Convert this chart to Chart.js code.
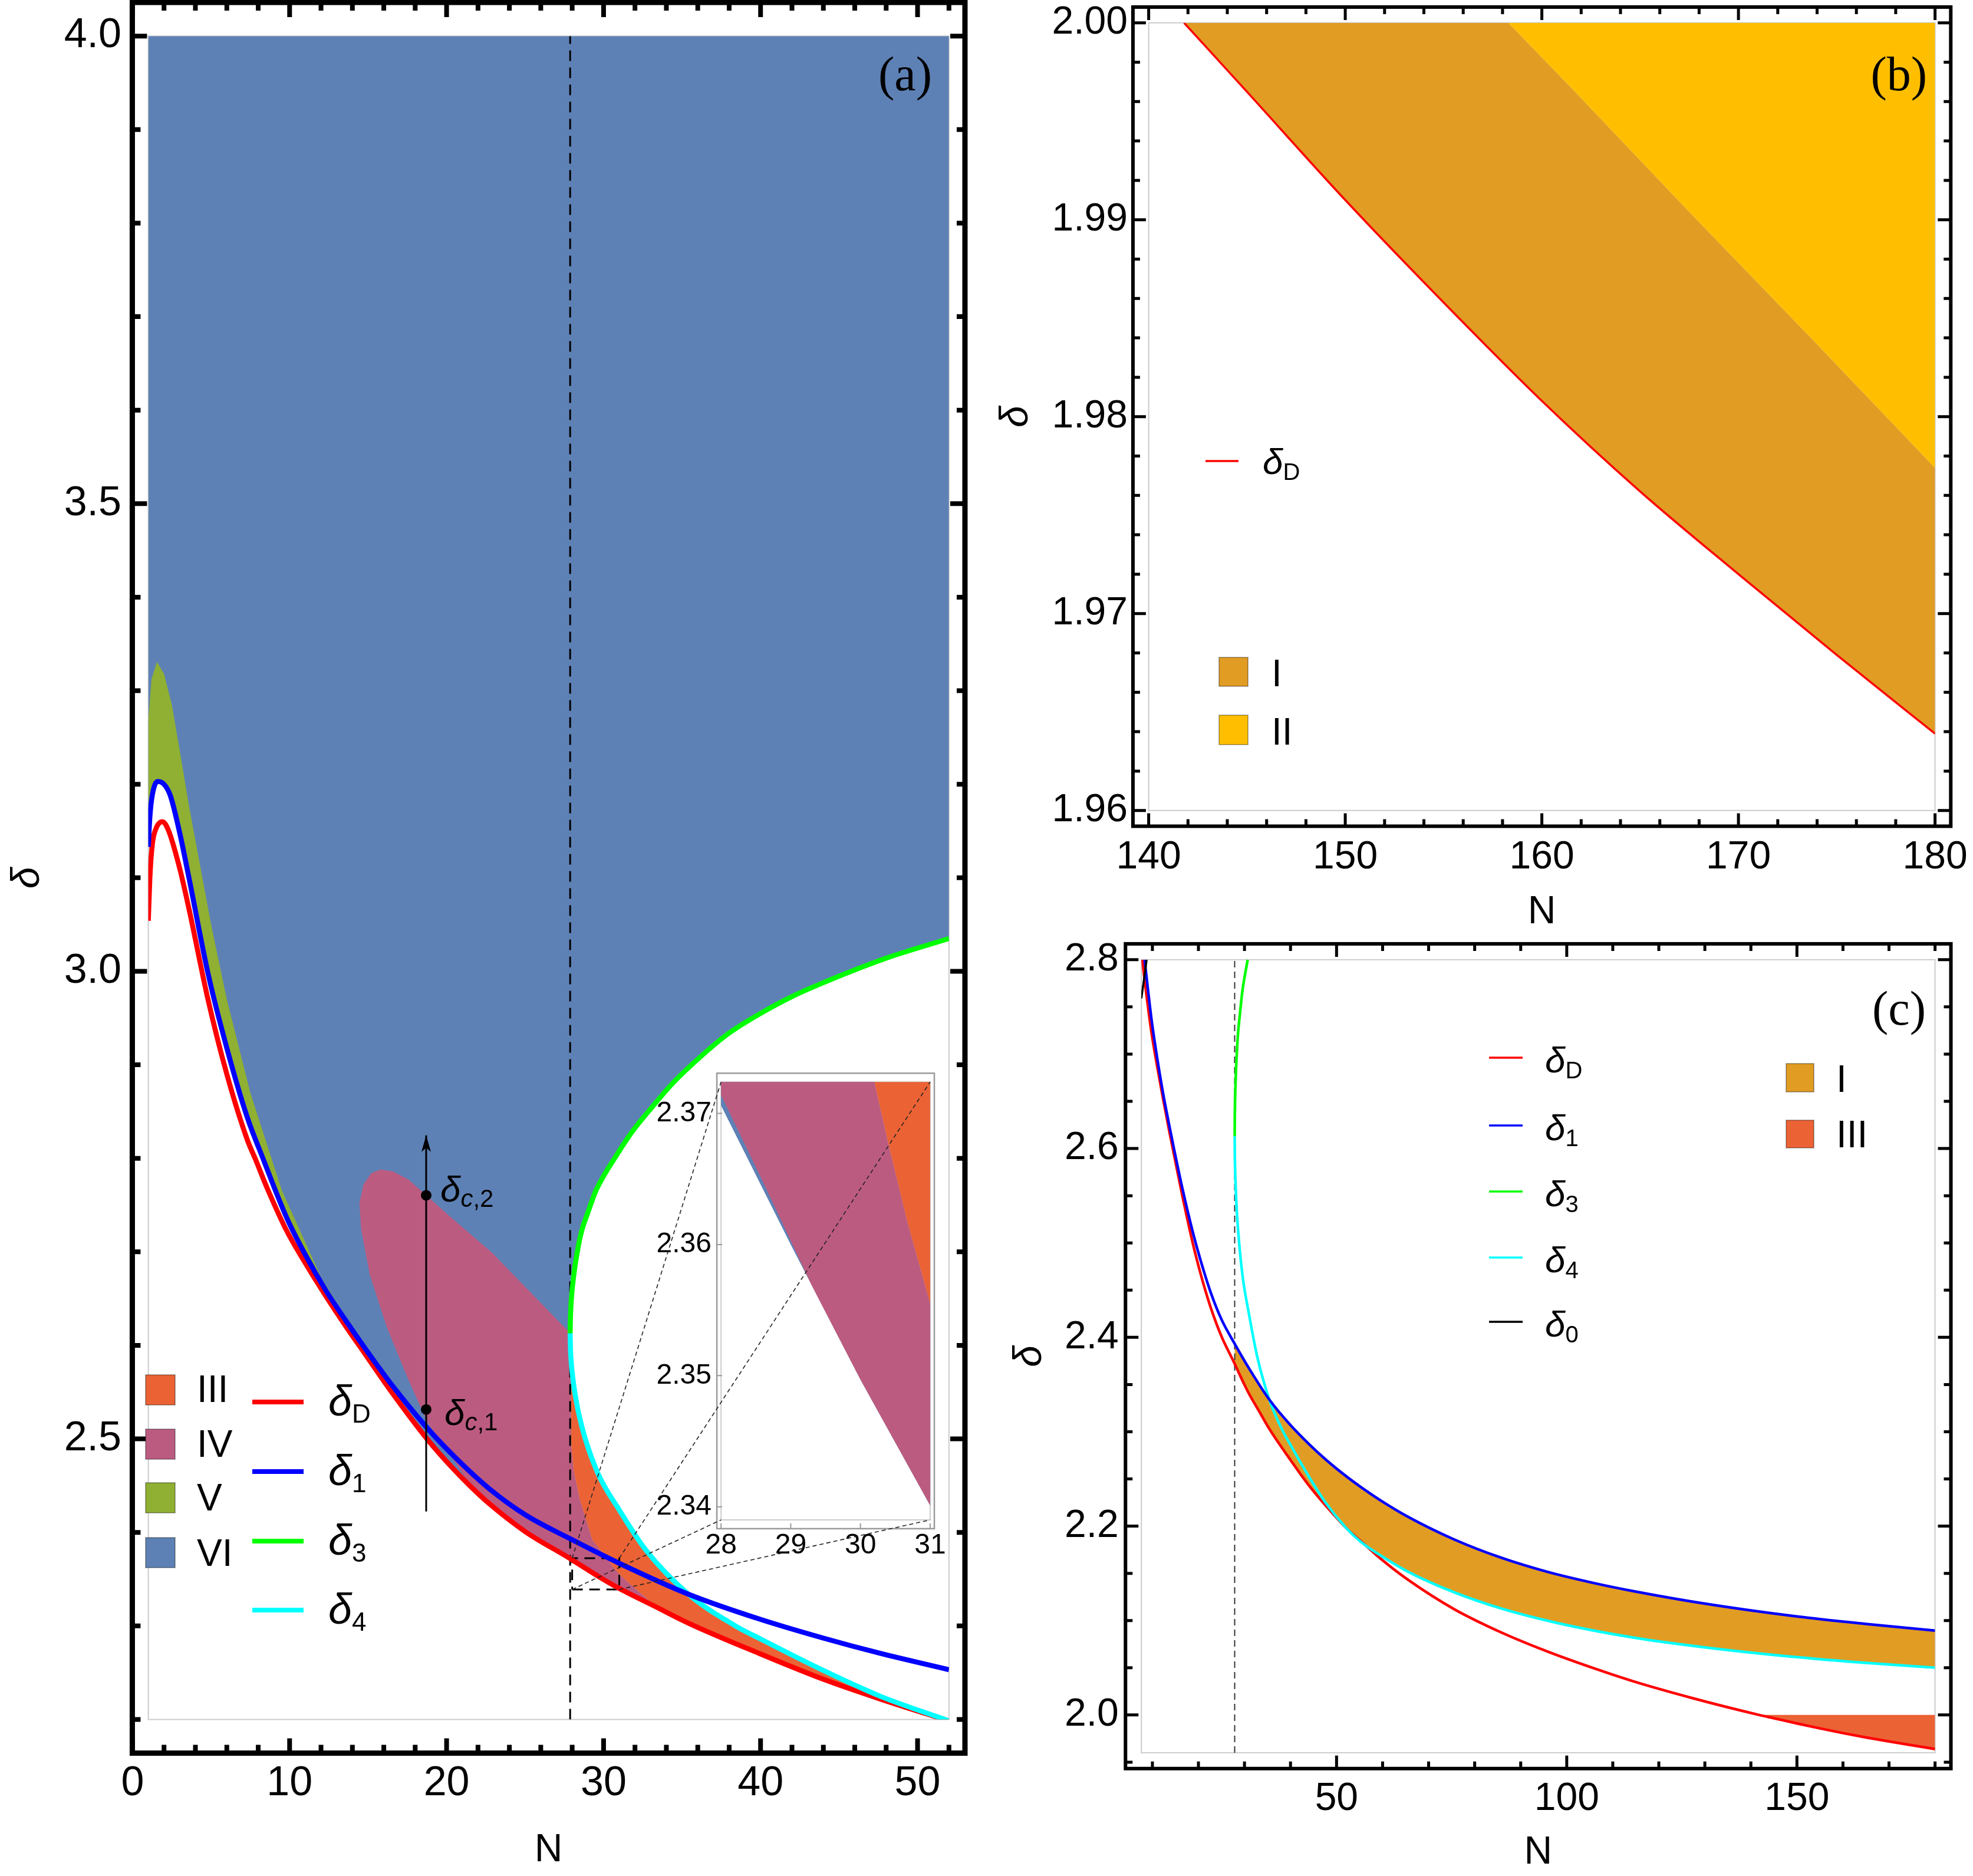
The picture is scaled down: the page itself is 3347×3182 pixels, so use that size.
<!DOCTYPE html>
<html>
<head>
<meta charset="utf-8">
<title>Phase diagram in the (N, delta) plane</title>
<script src="https://cdn.jsdelivr.net/npm/chart.js@4.4.1/dist/chart.umd.min.js"></script>
<style>
  html, body { margin: 0; padding: 0; background: #fff; }
  body { position: relative; width: 3347px; height: 3182px; overflow: hidden; }
  canvas { position: absolute; }
</style>
</head>
<body>
<canvas id="chartA" width="1660" height="3182" style="left:0px;top:0px"></canvas>
<canvas id="chartB" width="1687" height="1590" style="left:1660px;top:0px"></canvas>
<canvas id="chartC" width="1687" height="1592" style="left:1660px;top:1590px"></canvas>
<canvas id="chartI" width="700" height="950" style="left:940px;top:1780px"></canvas>
<script>
// ---- values: N on x, delta on y ----

// delta_D (red)
const nD = [1.0, 1.1, 1.25, 1.5, 1.9, 2.3, 3.0, 3.6, 4.8, 6.0, 7.3, 7.8, 8.6, 9.8, 11.0, 12.3, 13.6, 14.8, 16.5, 18.8,
            20.5, 21.6, 22.7, 25.0, 27.87, 28.0, 29.0, 30.0, 31.0, 33.3, 35.4, 40.0, 44.0, 47.6, 52.0, 55.2, 60.0, 65.4, 75.5, 85.6,
            95.7, 105.9, 114.4, 127.4, 141.8, 145, 150, 155, 160, 165, 170, 175, 180];
const dD = [3.054, 3.100, 3.135, 3.153, 3.160, 3.150, 3.110, 3.066, 2.970, 2.890, 2.820, 2.800, 2.767, 2.723, 2.688, 2.653, 2.620, 2.591, 2.550, 2.499,
            2.4667, 2.448, 2.431, 2.401, 2.372, 2.3706, 2.3600, 2.3497, 2.3401, 2.3207, 2.3030, 2.2700, 2.2430, 2.2220, 2.1985, 2.1845, 2.1638, 2.1436, 2.1122, 2.0878,
            2.0674, 2.0494, 2.0357, 2.0177, 2.0000, 1.9965, 1.9910, 1.9858, 1.9808, 1.9762, 1.9720, 1.9679, 1.9639];

// delta_1 (blue)
const n1 = [1.0, 1.1, 1.25, 1.6, 2.0, 2.4, 3.0, 3.6, 4.8, 6.0, 7.3, 8.3, 9.8, 11.0, 12.3, 13.6, 14.8, 16.5, 18.8, 20.5,
            22.7, 25.0, 27.9, 31.0, 35.4, 40.0, 44.0, 47.6, 52.0, 55.2, 60.0, 65.4, 75.5, 85.6, 95.7, 105.9, 114.4, 130, 150, 165, 180];
const d1 = [3.133, 3.165, 3.188, 3.203, 3.200, 3.188, 3.148, 3.099, 2.998, 2.918, 2.844, 2.800, 2.737, 2.697, 2.659, 2.626, 2.597, 2.558, 2.511, 2.481,
            2.447, 2.419, 2.393, 2.367, 2.334, 2.307, 2.287, 2.2708, 2.2532, 2.2417, 2.2259, 2.2102, 2.1860, 2.1668, 2.1517, 2.1397, 2.1312, 2.1179, 2.1043, 2.0964, 2.0894];

// delta_3 (green) and delta_4 (cyan), both leaving the turning point
const n3 = [27.87, 27.89, 27.95, 28.14, 28.38, 28.6, 29.0, 29.5, 30.0, 30.7, 31.8, 33.0, 34.5, 36.4, 38.0, 40.0, 42.0, 44.6, 48.0, 52.0];
const d3 = [2.613, 2.630, 2.650, 2.680, 2.705, 2.722, 2.742, 2.765, 2.781, 2.800, 2.828, 2.853, 2.882, 2.912, 2.934, 2.955, 2.973, 2.992, 3.014, 3.035];
const n4 = [27.87, 27.89, 27.95, 28.0, 28.2, 28.6, 29.6, 31.0, 32.7, 35.4, 38.3, 40.0, 43.8, 47.6, 52.0, 55.2, 60.0, 65.4, 75.5, 85.6,
            98.3, 114.4, 130, 150, 165, 180];
const d4 = [2.613, 2.597, 2.580, 2.571, 2.546, 2.514, 2.4645, 2.424, 2.381, 2.334, 2.301, 2.286, 2.254, 2.225, 2.1985, 2.1837, 2.1676, 2.152, 2.130, 2.113,
            2.097, 2.082, 2.0716, 2.0612, 2.0551, 2.0501];

// delta_0 (black, panel c only)
const n0 = [7.6, 8.2, 8.75];
const d0 = [2.759, 2.780, 2.800];

// region borders that are not one of the curves
const nVtop = [1.0, 1.2, 1.55, 2.0, 2.5, 3.0, 3.6, 4.4, 5.0, 6.0, 7.5, 9.5, 12.0, 14.8];
const dVtop = [3.268, 3.312, 3.331, 3.318, 3.285, 3.236, 3.176, 3.104, 3.050, 2.970, 2.870, 2.766, 2.673, 2.597];
const nIVarc = [21.6, 20.1, 18.8, 17.5, 16.2, 15.1, 14.55, 14.45, 14.7, 15.2, 15.8, 16.6, 17.6, 20.2, 22.9, 25.5, 27.87];
const dIVarc = [2.448, 2.4865, 2.517, 2.566, 2.619, 2.676, 2.725, 2.752, 2.772, 2.784, 2.788, 2.786, 2.777, 2.738, 2.699, 2.654, 2.613];
const nIVlow = [29.3, 28.6, 28.0, 27.87];
const dIVlow = [2.3569, 2.3648, 2.3714, 2.3730];
const nIIIedge = [28.0, 27.93, 27.92, 27.95, 28.1, 28.49, 29.29, 30.2, 30.4, 30.67, 31.0, 31.5, 32.0, 32.6, 33.3];
const dIIIedge = [2.571, 2.545, 2.515, 2.4914, 2.466, 2.435, 2.392, 2.3724, 2.3677, 2.3618, 2.3555, 2.3475, 2.3405, 2.3315, 2.3207];
const nBnd = [158.3, 161.4, 167.4, 173.5, 180];      // I / II border in panel (b)
const dBnd = [2.0000, 1.9968, 1.9905, 1.9842, 1.9774];

// marked points and guides
const vertexN = 27.87;                 // dashed vertical line
const nMerge = 52.0;                   // delta_4 runs onto delta_D
const dTwo = 2.0;
const arrowN = 18.7;
const arrowD = [2.4224, 2.8246];
const critD = [2.5315, 2.7605];        // delta_c,1 and delta_c,2
const zoomN = [28, 31];
const zoomD = [2.339, 2.3724];

// plot ranges and ticks
const rangeA = {x: [1, 52], y: [2.2, 4.0]};
const rangeB = {x: [140, 180], y: [1.96, 2.00]};
const rangeC = {x: [7.6, 180], y: [1.96, 2.8]};
const rangeI = {x: zoomN, y: zoomD};
const xTicksA = [0, 10, 20, 30, 40, 50], yTicksA = [2.5, 3.0, 3.5, 4.0];
const xTicksB = [140, 150, 160, 170, 180], yTicksB = [1.96, 1.97, 1.98, 1.99, 2.00];
const xTicksC = [50, 100, 150], yTicksC = [2.0, 2.2, 2.4, 2.6, 2.8];
const xTicksI = [28, 29, 30, 31], yTicksI = [2.34, 2.35, 2.36, 2.37];

const COL = {D: '#ff0000', one: '#0000ff', three: '#00ff00', four: '#00ffff', zero: '#000000',
  I: '#E19C24', II: '#FFBF00', III: '#EB6235', IV: '#BC5B80', V: '#8FB032', VI: '#5E81B5'};

const SANS = '"Liberation Sans", Arial, sans-serif';
const SERIF = '"Liberation Serif", "Times New Roman", serif';
Chart.defaults.font.family = SANS;
Chart.defaults.color = '#000';

// ---- page layout ----
const OFF = {A: [0, 0], B: [1660, 0], C: [1660, 1590], I: [940, 1780]};
const SIZE = {A: [1660, 3182], B: [1687, 1590], C: [1687, 1592], I: [700, 950]};
const RECT = {A: [251.6, 61.2, 1609.8, 2916.5], B: [1948.6, 38.7, 3282.6, 1374.7],
              C: [1936.2, 1627.8, 3282.6, 2972.9], I: [1223.2, 1835.2, 1577.9, 2578.0]};
function box(k) {
  const [ox, oy] = OFF[k], [w, h] = SIZE[k], [l, t, r, b] = RECT[k];
  return {yAxisW: l - ox, padTop: t - oy, padRight: ox + w - r, xAxisH: oy + h - b};
}

// ---- helpers ----
const P = (ns, ds) => ns.map((n, i) => ({x: n, y: ds[i]}));
const within = (p, lo, hi, top) => p.filter(q => q.x >= lo - 1e-9 && q.x <= hi + 1e-9 && (top === undefined || q.y <= top + 1e-9));
const rev = p => p.slice().reverse();

const lineD = P(nD, dD), line1 = P(n1, d1), line3 = P(n3, d3), line4 = P(n4, d4), line0 = P(n0, d0);
const edgeV = P(nVtop, dVtop), arcIV = P(nIVarc, dIVarc), lowIV = P(nIVlow, dIVlow);
const edgeIII = P(nIIIedge, dIIIedge), edgeII = P(nBnd, dBnd);
const nIII0 = nIIIedge[0], nIIIend = nIIIedge[nIIIedge.length - 1], nSplit = nVtop[nVtop.length - 1];

// ---- regions, built from the curves ----
const regionVI = [
  {x: rangeA.x[0], y: rangeA.y[1]}, {x: rangeA.x[1], y: rangeA.y[1]},
  ...rev(within(line3, vertexN, rangeA.x[1])),
  ...within(line4, vertexN, nIII0),
  ...edgeIII,
  ...rev(within(lineD, nSplit, nIIIend)),
  ...rev(within(line1, rangeA.x[0], nSplit))
];
const regionV = [...edgeV, ...rev(within(line1, rangeA.x[0], nSplit))];
const regionIV = [
  ...arcIV,
  ...within(line4, vertexN, nIII0),
  ...edgeIII,
  ...rev(within(lineD, nIVlow[0], nIIIend)),
  ...lowIV,
  ...rev(within(lineD, nIVarc[0], vertexN))
];
const regionIII = [...within(line4, nIII0, rangeA.x[1]), ...rev(within(lineD, nIIIend, rangeA.x[1])), ...rev(edgeIII)];

const regionBI = [...within(lineD, rangeB.x[0], rangeB.x[1], rangeB.y[1]), ...rev(edgeII)];
const regionBII = [...edgeII, {x: rangeB.x[1], y: rangeB.y[1]}];

const regionCI = [...within(line1, vertexN, rangeC.x[1]),
  ...rev([...within(lineD, vertexN, nMerge), ...within(line4, nMerge, rangeC.x[1])])];
const regionCIII = [...within(lineD, rangeC.x[0], rangeC.x[1], dTwo), {x: rangeC.x[1], y: dTwo}];

function area(data, color, order) {
  return {data, backgroundColor: color, borderColor: color, borderWidth: 0, fill: 'shape', pointRadius: 0, order};
}
function curve(data, color, width, order, extra) {
  return Object.assign({data, borderColor: color, borderWidth: width, fill: false, pointRadius: 0, order,
                        cubicInterpolationMode: 'monotone', borderJoinStyle: 'round'}, extra || {});
}
function guide(data, color, width, order, dash) {
  return {data, borderColor: color, borderWidth: width, fill: false, pointRadius: 0, order, borderDash: dash || []};
}

// ---- plugins: frame with inward ticks, and text / keys ----
function frameRect(chart, pad) {
  const a = chart.chartArea, w = a.right - a.left, h = a.bottom - a.top;
  return {L: a.left - w * pad, R: a.right + w * pad, T: a.top - h * pad, B: a.bottom + h * pad};
}
function tickSet(scale, major, step, pad) {
  const span = scale.max - scale.min, lo = scale.min - span * pad, hi = scale.max + span * pad;
  const out = major.filter(v => v >= lo && v <= hi).map(v => [v, true]);
  if (step) {
    for (let k = Math.ceil(lo / step - 1e-9); k * step <= hi + 1e-9; k++) {
      const v = k * step;
      if (!major.some(m => Math.abs(m - v) < step * 1e-3)) out.push([v, false]);
    }
  }
  return out;
}
const frameTicks = {
  id: 'frameTicks',
  beforeDraw(chart, args, o) {
    if (!o.white) return;
    const f = frameRect(chart, o.pad), ctx = chart.ctx;
    ctx.save(); ctx.fillStyle = '#fff'; ctx.fillRect(f.L, f.T, f.R - f.L, f.B - f.T); ctx.restore();
  },
  beforeDatasetsDraw(chart, args, o) {
    const a = chart.chartArea, ctx = chart.ctx;
    ctx.save(); ctx.strokeStyle = '#cccccc'; ctx.lineWidth = 2;
    ctx.strokeRect(a.left, a.top, a.right - a.left, a.bottom - a.top); ctx.restore();
  },
  afterDraw(chart, args, o) {
    const ctx = chart.ctx, f = frameRect(chart, o.pad), {x, y} = chart.scales;
    ctx.save();
    ctx.strokeStyle = o.color; ctx.lineWidth = o.tickWidth; ctx.lineCap = 'butt';
    ctx.beginPath();
    for (const [v, major] of tickSet(x, o.xMajor, o.xStep, o.pad)) {
      const p = x.getPixelForValue(v), len = major ? o.majorLen : o.minorLen;
      ctx.moveTo(p, f.B); ctx.lineTo(p, f.B - len);
      if (o.mirror) { ctx.moveTo(p, f.T); ctx.lineTo(p, f.T + len); }
    }
    for (const [v, major] of tickSet(y, o.yMajor, o.yStep, o.pad)) {
      const p = y.getPixelForValue(v), len = major ? o.majorLen : o.minorLen;
      ctx.moveTo(f.L, p); ctx.lineTo(f.L + len, p);
      if (o.mirror) { ctx.moveTo(f.R, p); ctx.lineTo(f.R - len, p); }
    }
    ctx.stroke();
    ctx.lineWidth = o.frameWidth;
    ctx.strokeRect(f.L, f.T, f.R - f.L, f.B - f.T);
    ctx.restore();
  }
};

function drawSym(ctx, x, y, it) {
  ctx.font = `italic ${it.size}px ${SANS}`;
  ctx.fillText(it.main, x, y);
  let cx = x + ctx.measureText(it.main).width;
  for (const [txt, ital] of it.subs) {
    ctx.font = `${ital ? 'italic ' : ''}${it.sub}px ${SANS}`;
    ctx.fillText(txt, cx, y + it.drop);
    cx += ctx.measureText(txt).width;
  }
}
const notes = {
  id: 'notes',
  afterDraw(chart, args, o) {
    const ctx = chart.ctx, [ox, oy] = o.off;
    ctx.save();
    ctx.translate(-ox, -oy);
    ctx.fillStyle = '#000'; ctx.textBaseline = 'alphabetic'; ctx.textAlign = 'left';
    for (const it of o.items) {
      if (it.t === 'label') {
        ctx.font = `${it.size}px ${SERIF}`; ctx.textAlign = 'right';
        ctx.fillText(it.text, it.x, it.y); ctx.textAlign = 'left';
      } else if (it.t === 'text') {
        ctx.font = `${it.size}px ${SANS}`; ctx.fillText(it.text, it.x, it.y);
      } else if (it.t === 'swatch') {
        ctx.fillStyle = it.color; ctx.fillRect(it.x, it.y, it.w, it.h);
        ctx.strokeStyle = 'rgba(0,0,0,0.3)'; ctx.lineWidth = 2; ctx.strokeRect(it.x, it.y, it.w, it.h);
        ctx.fillStyle = '#000';
      } else if (it.t === 'key') {
        ctx.strokeStyle = it.color; ctx.lineWidth = it.lw;
        ctx.beginPath(); ctx.moveTo(it.x1, it.y); ctx.lineTo(it.x2, it.y); ctx.stroke();
      } else if (it.t === 'sym') {
        drawSym(ctx, it.x, it.y, it);
      } else if (it.t === 'symAt') {
        const px = chart.scales.x.getPixelForValue(it.n) + ox, py = chart.scales.y.getPixelForValue(it.d) + oy;
        drawSym(ctx, px + it.dx, py + it.dy, it);
      } else if (it.t === 'arrowHead') {
        const px = chart.scales.x.getPixelForValue(it.n) + ox, py = chart.scales.y.getPixelForValue(it.d) + oy;
        ctx.beginPath(); ctx.moveTo(px, py); ctx.lineTo(px - it.half, py + it.len); ctx.lineTo(px, py + it.len * 0.75);
        ctx.lineTo(px + it.half, py + it.len); ctx.closePath(); ctx.fill();
      }
    }
    ctx.restore();
  }
};

// ---- common options ----
function opts(c) {
  const b = box(c.key);
  const tickFont = {family: SANS, size: c.tickSize, lineHeight: 1};
  const zeroPad = s => { s.paddingLeft = 0; s.paddingRight = 0; s.paddingTop = 0; s.paddingBottom = 0; };
  return {
    responsive: false, animation: false, devicePixelRatio: 1, events: [],
    layout: {padding: {left: 0, bottom: 0, top: b.padTop, right: b.padRight}},
    elements: {point: {radius: 0}, line: {tension: 0}},
    plugins: {legend: {display: false}, tooltip: {enabled: false}, frameTicks: c.frame, notes: c.notes},
    scales: {
      x: {
        type: 'linear', min: c.range.x[0], max: c.range.x[1],
        grid: {display: false, drawTicks: false}, border: {display: false},
        ticks: {autoSkip: false, maxRotation: 0, minRotation: 0, padding: c.xPad, color: '#000', font: tickFont,
                callback: v => v.toFixed(c.xDec)},
        afterBuildTicks: s => { s.ticks = c.xTicks.map(v => ({value: v})); },
        afterFit: s => { s.height = b.xAxisH; zeroPad(s); },
        title: c.xTitle ? {display: true, text: 'N', color: '#000', font: {family: SANS, size: 66, lineHeight: 1},
                           padding: {top: 0, bottom: c.xTitle}} : {display: false}
      },
      y: {
        type: 'linear', min: c.range.y[0], max: c.range.y[1],
        grid: {display: false, drawTicks: false}, border: {display: false},
        ticks: {autoSkip: false, padding: c.yPad, color: '#000', font: tickFont, callback: v => v.toFixed(c.yDec)},
        afterBuildTicks: s => { s.ticks = c.yTicks.map(v => ({value: v})); },
        afterFit: s => { s.width = b.yAxisW; zeroPad(s); },
        title: c.yTitle ? {display: true, text: 'δ', color: '#000', font: {family: SANS, size: 66, style: 'italic', lineHeight: 1},
                           padding: {top: c.yTitle, bottom: 0}} : {display: false}
      }
    }
  };
}
const frameBig = {pad: 0.02, color: '#000', frameWidth: 9, tickWidth: 8, majorLen: 25, minorLen: 14, mirror: true};
const frameSmall = {pad: 0.02, color: '#000', frameWidth: 6, tickWidth: 5, majorLen: 22, minorLen: 12, mirror: true};

// ---- panel (a) ----
const chartA = new Chart(document.getElementById('chartA'), {
  type: 'line',
  data: {datasets: [
    {data: critD.map(d => ({x: arrowN, y: d})), showLine: false, pointRadius: 9, pointBackgroundColor: '#000', pointBorderWidth: 0, order: -2},
    guide(arrowD.map(d => ({x: arrowN, y: d})), '#000', 3, -1),
    curve(within(line1, rangeA.x[0], rangeA.x[1]), COL.one, 8.5, 1),
    curve(within(line4, vertexN, rangeA.x[1]), COL.four, 8.5, 2),
    curve(within(line3, vertexN, rangeA.x[1]), COL.three, 8.5, 3),
    curve(within(lineD, rangeA.x[0], rangeA.x[1]), COL.D, 8.5, 4),
    guide([{x: zoomN[0], y: zoomD[0]}, {x: zoomN[1], y: zoomD[0]}, {x: zoomN[1], y: zoomD[1]}, {x: zoomN[0], y: zoomD[1]}, {x: zoomN[0], y: zoomD[0]}],
          '#000', 3, 5, [18, 11]),
    guide(rangeA.y.map(d => ({x: vertexN, y: d})), '#000', 3, 6, [18, 11]),
    area(regionIII, COL.III, 7),
    area(regionIV, COL.IV, 8),
    area(regionV, COL.V, 9),
    area(regionVI, COL.VI, 10)
  ]},
  options: opts({
    key: 'A', range: rangeA, xTicks: xTicksA, yTicks: yTicksA, xDec: 0, yDec: 1, tickSize: 70,
    xPad: 74.5, yPad: 45.6, xTitle: 10, yTitle: 15,
    frame: Object.assign({xMajor: xTicksA, yMajor: yTicksA, xStep: 2, yStep: 0.1}, frameBig),
    notes: {off: OFF.A, items: [
      {t: 'label', text: '(a)', x: 1581, y: 153, size: 82},
      {t: 'swatch', x: 247, y: 2332, w: 50, h: 51, color: COL.III},
      {t: 'swatch', x: 247, y: 2424, w: 50, h: 51, color: COL.IV},
      {t: 'swatch', x: 247, y: 2515, w: 50, h: 51, color: COL.V},
      {t: 'swatch', x: 247, y: 2608, w: 50, h: 51, color: COL.VI},
      {t: 'text', text: 'III', x: 334, y: 2378, size: 64},
      {t: 'text', text: 'IV', x: 334, y: 2471, size: 64},
      {t: 'text', text: 'V', x: 334, y: 2562, size: 64},
      {t: 'text', text: 'VI', x: 334, y: 2656, size: 64},
      {t: 'key', x1: 428, x2: 515, y: 2378, color: COL.D, lw: 8},
      {t: 'key', x1: 428, x2: 515, y: 2496, color: COL.one, lw: 8},
      {t: 'key', x1: 428, x2: 515, y: 2614, color: COL.three, lw: 8},
      {t: 'key', x1: 428, x2: 515, y: 2731, color: COL.four, lw: 8},
      {t: 'sym', x: 557, y: 2401, main: 'δ', subs: [['D', false]], size: 72, sub: 44, drop: 12},
      {t: 'sym', x: 557, y: 2519, main: 'δ', subs: [['1', false]], size: 72, sub: 44, drop: 12},
      {t: 'sym', x: 557, y: 2637, main: 'δ', subs: [['3', false]], size: 72, sub: 44, drop: 12},
      {t: 'sym', x: 557, y: 2754, main: 'δ', subs: [['4', false]], size: 72, sub: 44, drop: 12},
      {t: 'symAt', n: arrowN, d: critD[1], dx: 24, dy: 11, main: 'δ', subs: [['c', true], [',2', false]], size: 62, sub: 42, drop: 9},
      {t: 'symAt', n: arrowN, d: critD[0], dx: 31, dy: 26, main: 'δ', subs: [['c', true], [',1', false]], size: 62, sub: 42, drop: 9},
      {t: 'arrowHead', n: arrowN, d: arrowD[1], len: 28, half: 8}
    ]}
  }),
  plugins: [frameTicks, notes]
});

// ---- panel (b) ----
new Chart(document.getElementById('chartB'), {
  type: 'line',
  data: {datasets: [
    curve(within(lineD, rangeB.x[0], rangeB.x[1], rangeB.y[1]), COL.D, 3.5, 1),
    area(regionBII, COL.II, 2),
    area(regionBI, COL.I, 3)
  ]},
  options: opts({
    key: 'B', range: rangeB, xTicks: xTicksB, yTicks: yTicksB, xDec: 0, yDec: 2, tickSize: 66,
    xPad: 47, yPad: 35.6, xTitle: 9, yTitle: 32,
    frame: Object.assign({xMajor: xTicksB, yMajor: yTicksB, xStep: 2, yStep: 0.002}, frameSmall),
    notes: {off: OFF.B, items: [
      {t: 'label', text: '(b)', x: 3269, y: 153, size: 82},
      {t: 'key', x1: 2045, x2: 2101, y: 782, color: COL.D, lw: 3.5},
      {t: 'sym', x: 2142, y: 804, main: 'δ', subs: [['D', false]], size: 62, sub: 40, drop: 10},
      {t: 'swatch', x: 2068, y: 1115, w: 49, h: 49, color: COL.I},
      {t: 'swatch', x: 2068, y: 1213, w: 49, h: 50, color: COL.II},
      {t: 'text', text: 'I', x: 2157, y: 1164, size: 64},
      {t: 'text', text: 'II', x: 2157, y: 1263, size: 64}
    ]}
  }),
  plugins: [frameTicks, notes]
});

// ---- panel (c) ----
const topC = rangeC.y[1];
new Chart(document.getElementById('chartC'), {
  type: 'line',
  data: {datasets: [
    curve(line0, COL.zero, 3.5, 0),
    curve(within(line1, rangeC.x[0], rangeC.x[1], topC), COL.one, 4.5, 1),
    curve(within(line4, vertexN, rangeC.x[1], topC), COL.four, 4.5, 2),
    curve(within(line3, vertexN, rangeC.x[1], topC), COL.three, 4.5, 3),
    curve(within(lineD, rangeC.x[0], rangeC.x[1], topC), COL.D, 4.5, 4),
    guide(rangeC.y.map(d => ({x: vertexN, y: d})), '#333', 2, 5, [11, 7]),
    area(regionCIII, COL.III, 6),
    area(regionCI, COL.I, 7)
  ]},
  options: opts({
    key: 'C', range: rangeC, xTicks: xTicksC, yTicks: yTicksC, xDec: 0, yDec: 1, tickSize: 66,
    xPad: 45.5, yPad: 38.5, xTitle: 6, yTitle: 55,
    frame: Object.assign({xMajor: xTicksC, yMajor: yTicksC, xStep: 10, yStep: 0.05}, frameSmall),
    notes: {off: OFF.C, items: [
      {t: 'label', text: '(c)', x: 3267, y: 1738, size: 82},
      {t: 'key', x1: 2526, x2: 2583, y: 1794, color: COL.D, lw: 3.5},
      {t: 'key', x1: 2526, x2: 2583, y: 1909, color: COL.one, lw: 3.5},
      {t: 'key', x1: 2526, x2: 2583, y: 2021, color: COL.three, lw: 3.5},
      {t: 'key', x1: 2526, x2: 2583, y: 2133, color: COL.four, lw: 3.5},
      {t: 'key', x1: 2526, x2: 2583, y: 2242, color: COL.zero, lw: 3.5},
      {t: 'sym', x: 2621, y: 1819, main: 'δ', subs: [['D', false]], size: 62, sub: 40, drop: 10},
      {t: 'sym', x: 2621, y: 1934, main: 'δ', subs: [['1', false]], size: 62, sub: 40, drop: 10},
      {t: 'sym', x: 2621, y: 2046, main: 'δ', subs: [['3', false]], size: 62, sub: 40, drop: 10},
      {t: 'sym', x: 2621, y: 2158, main: 'δ', subs: [['4', false]], size: 62, sub: 40, drop: 10},
      {t: 'sym', x: 2621, y: 2267, main: 'δ', subs: [['0', false]], size: 62, sub: 40, drop: 10},
      {t: 'swatch', x: 3030, y: 1804, w: 47, h: 48, color: COL.I},
      {t: 'swatch', x: 3030, y: 1900, w: 47, h: 47, color: COL.III},
      {t: 'text', text: 'I', x: 3115, y: 1852, size: 64},
      {t: 'text', text: 'III', x: 3115, y: 1946, size: 64}
    ]}
  }),
  plugins: [frameTicks, notes]
});

// ---- inset of panel (a) with its zoom lines ----
const zoomLines = {
  id: 'zoomLines',
  afterDraw(chart) {
    const ctx = chart.ctx, ax = chartA.scales.x, ay = chartA.scales.y, ix = chart.scales.x, iy = chart.scales.y;
    const dx = OFF.A[0] - OFF.I[0], dy = OFF.A[1] - OFF.I[1];
    ctx.save();
    ctx.strokeStyle = '#222'; ctx.lineWidth = 1.6; ctx.setLineDash([7, 5]);
    ctx.beginPath();
    for (const n of zoomN) for (const d of zoomD) {
      ctx.moveTo(ax.getPixelForValue(n) + dx, ay.getPixelForValue(d) + dy);
      ctx.lineTo(ix.getPixelForValue(n), iy.getPixelForValue(d));
    }
    ctx.stroke();
    ctx.restore();
  }
};
new Chart(document.getElementById('chartI'), {
  type: 'line',
  data: {datasets: [
    area(regionIII, COL.III, 7),
    area(regionIV, COL.IV, 8),
    area(regionVI, COL.VI, 10)
  ]},
  options: opts({
    key: 'I', range: rangeI, xTicks: xTicksI, yTicks: yTicksI, xDec: 0, yDec: 2, tickSize: 48,
    xPad: 19.5, yPad: 16.2, xTitle: 0, yTitle: 0,
    frame: {pad: 0.02, color: '#9a9a9a', frameWidth: 2.5, tickWidth: 2, majorLen: 9, minorLen: 0, mirror: false, white: true,
            xMajor: xTicksI, yMajor: yTicksI, xStep: 0, yStep: 0},
    notes: {off: OFF.I, items: []}
  }),
  plugins: [frameTicks, notes, zoomLines]
});
</script>
</body>
</html>
